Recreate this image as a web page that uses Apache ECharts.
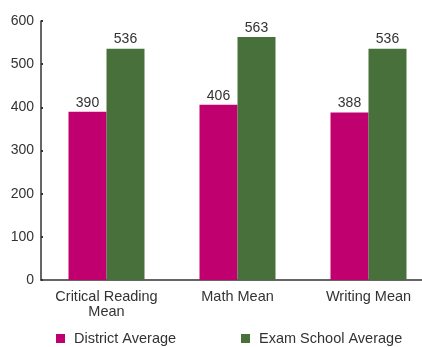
<!DOCTYPE html>
<html><head><meta charset="utf-8">
<script src="https://cdn.jsdelivr.net/npm/echarts@6/dist/echarts.min.js"></script>
<style>html,body{margin:0;padding:0;background:#fff}#c{width:422px;height:347px}</style>
</head><body><div id="c"></div>
<script>
const categories = ['Critical Reading\nMean', 'Math Mean', 'Writing Mean'];
const districtAverage = [390, 406, 388];
const examSchoolAverage = [536, 563, 536];
const yTicks = [0, 100, 200, 300, 400, 500, 600];

const font = 'Liberation Sans, Arial, sans-serif';
const chart = echarts.init(document.getElementById('c'), null, {renderer: 'canvas'});
chart.setOption({
  animation: false,
  backgroundColor: '#fff',
  grid: {left: 41, width: 393, top: 21, height: 259, containLabel: false, outerBoundsMode: 'none'},
  legend: [
    {data: ['District Average'], left: 51, top: 326, itemWidth: 9, itemHeight: 9, icon: 'rect',
     textStyle: {fontFamily: font, fontSize: 14.5, color: '#333', padding: [0, 0, 0, 4]}},
    {data: ['Exam School Average'], left: 236, top: 326, itemWidth: 9, itemHeight: 9, icon: 'rect',
     textStyle: {fontFamily: font, fontSize: 14.5, color: '#333', padding: [0, 0, 0, 4]}}
  ],
  xAxis: {
    type: 'category', data: categories,
    axisLine: {lineStyle: {color: '#333', width: 1.5}},
    axisTick: {show: false},
    axisLabel: {fontFamily: font, fontSize: 14.5, color: '#333', margin: 9, lineHeight: 15, interval: 0, hideOverlap: false}
  },
  yAxis: {
    type: 'value', min: yTicks[0], max: yTicks[yTicks.length - 1], interval: 100,
    axisLine: {show: true, lineStyle: {color: '#333', width: 1.5}},
    axisTick: {show: true, inside: true, length: 2, lineStyle: {color: '#333', width: 2}},
    splitLine: {show: false},
    axisLabel: {fontFamily: font, fontSize: 14, color: '#333', margin: 7}
  },
  series: [
    {name: 'District Average', type: 'bar', data: districtAverage, barWidth: 38, barGap: '0%',
     itemStyle: {color: '#c0006f'},
     label: {show: true, position: 'top', distance: 2, fontFamily: font, fontSize: 14, color: '#333'}},
    {name: 'Exam School Average', type: 'bar', data: examSchoolAverage, barWidth: 38, barGap: '0%',
     itemStyle: {color: '#48703a'},
     label: {show: true, position: 'top', distance: 2, fontFamily: font, fontSize: 14, color: '#333'}}
  ]
});
</script></body></html>
